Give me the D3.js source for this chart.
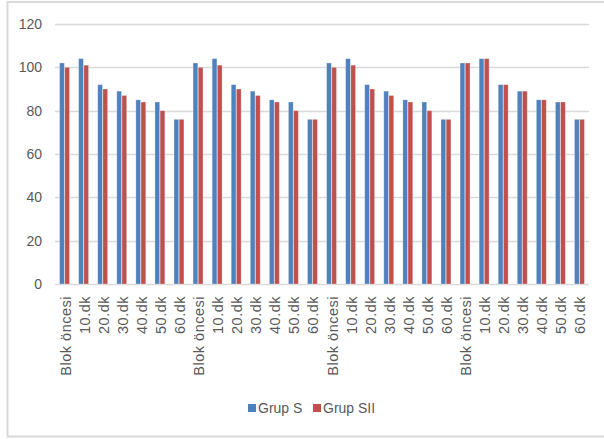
<!DOCTYPE html>
<html>
<head>
<meta charset="utf-8">
<script src="https://cdn.jsdelivr.net/npm/d3@7"></script>
<style>
  html, body { margin: 0; padding: 0; background: #fff; }
  svg { display: block; }
  text { font-family: "Liberation Sans", Arial, sans-serif; fill: #595959; }
</style>
</head>
<body>
<svg id="chart" width="604" height="439"></svg>
<script>
// Time points, repeated for the four measurement blocks
const timePoints = ["Blok öncesi", "10.dk", "20.dk", "30.dk", "40.dk", "50.dk", "60.dk"];
const categories = [...timePoints, ...timePoints, ...timePoints, ...timePoints];

const grupS = [
  102, 104, 92, 89, 85, 84, 76,
  102, 104, 92, 89, 85, 84, 76,
  102, 104, 92, 89, 85, 84, 76,
  102, 104, 92, 89, 85, 84, 76
];
const grupSII = [
  100, 101, 90, 87, 84, 80, 76,
  100, 101, 90, 87, 84, 80, 76,
  100, 101, 90, 87, 84, 80, 76,
  102, 104, 92, 89, 85, 84, 76
];
const seriesNames = ["Grup S", "Grup SII"];
const seriesColors = ["#4F81BD", "#C0504D"];
const yTicks = [0, 20, 40, 60, 80, 100, 120];

const svg = d3.select("#chart");

// Chart frame
svg.append("rect")
  .attr("x", 7.5).attr("y", 2)
  .attr("width", 620).attr("height", 434.5)
  .attr("fill", "none")
  .attr("stroke", "#D9D9D9")
  .attr("stroke-width", 2);

const plot = { left: 55, right: 589, top: 24, bottom: 284 };

const y = d3.scaleLinear().domain([0, 120]).range([plot.bottom, plot.top]);
const x0 = d3.scaleBand()
  .domain(d3.range(categories.length))
  .range([plot.left, plot.right])
  .paddingInner(0.48)
  .paddingOuter(0.24);
const x1 = d3.scaleBand()
  .domain(seriesNames)
  .range([0, x0.bandwidth()])
  .paddingInner(0.08);
const color = d3.scaleOrdinal().domain(seriesNames).range(seriesColors);

// Horizontal gridlines
svg.append("g")
  .selectAll("line")
  .data(yTicks)
  .join("line")
  .attr("x1", plot.left).attr("x2", plot.right)
  .attr("y1", d => Math.round(y(d)) + 0.5)
  .attr("y2", d => Math.round(y(d)) + 0.5)
  .attr("stroke", "#D9D9D9")
  .attr("stroke-width", 1.3);

// Y axis labels
const yAxis = d3.axisLeft(y).tickValues(yTicks).tickSize(0).tickPadding(0);
svg.append("g")
  .attr("transform", `translate(42,0)`)
  .call(yAxis)
  .call(g => g.select(".domain").remove())
  .call(g => g.selectAll("text")
    .style("font-family", "'Liberation Sans', Arial, sans-serif")
    .style("font-size", "14px")
    .attr("fill", "#595959"));

// Bars
const rows = categories.map((c, i) => ({ i, values: [grupS[i], grupSII[i]] }));
svg.append("g")
  .selectAll("g")
  .data(rows)
  .join("g")
  .attr("transform", d => `translate(${x0(d.i)},0)`)
  .selectAll("rect")
  .data(d => d.values.map((v, k) => ({ key: seriesNames[k], value: v })))
  .join("rect")
  .attr("x", d => x1(d.key))
  .attr("width", x1.bandwidth())
  .attr("y", d => y(d.value))
  .attr("height", d => y(0) - y(d.value))
  .attr("fill", d => color(d.key))
  .attr("stroke", "#ffffff")
  .attr("stroke-opacity", 0.35)
  .attr("stroke-width", 0.8);

// Category labels, rotated
const xAxis = d3.axisBottom(x0).tickSize(0).tickPadding(0).tickFormat(i => categories[i]);
svg.append("g")
  .attr("transform", `translate(0,${plot.bottom})`)
  .call(xAxis)
  .call(g => g.select(".domain").remove())
  .call(g => g.selectAll("text")
    .style("font-family", "'Liberation Sans', Arial, sans-serif")
    .style("font-size", "14.5px")
    .style("letter-spacing", "0.5px")
    .attr("fill", "#595959")
    .attr("text-anchor", "end")
    .attr("dy", null)
    .attr("y", 0)
    .attr("transform", "translate(6,12) rotate(-90)"));

// Legend
const legend = svg.append("g").attr("transform", "translate(248,404)");
const legendX = [0, 65];
seriesNames.forEach((name, k) => {
  const item = legend.append("g").attr("transform", `translate(${legendX[k]},0)`);
  item.append("rect")
    .attr("width", 8).attr("height", 8)
    .attr("fill", color(name));
  item.append("text")
    .attr("x", 10).attr("y", 4)
    .attr("dy", "0.35em")
    .style("font-size", "14px")
    .text(name);
});
</script>
</body>
</html>
